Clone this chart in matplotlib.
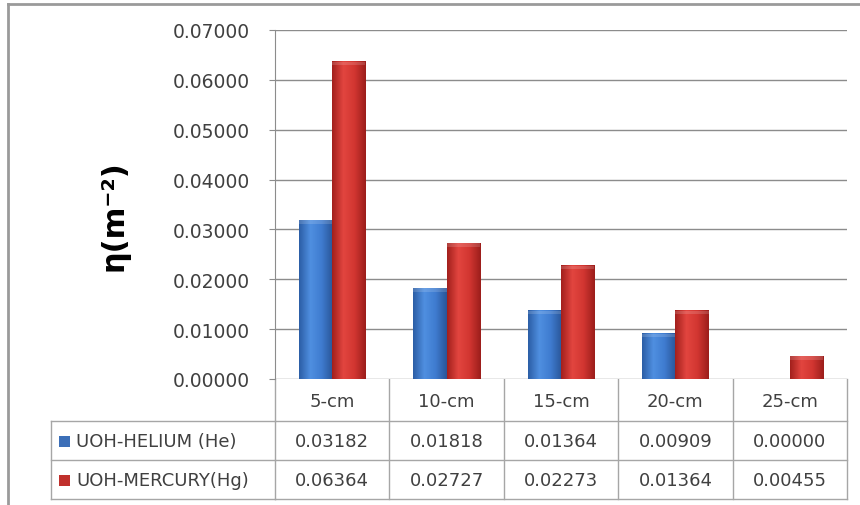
import numpy as np
import matplotlib
matplotlib.use("Agg")
from matplotlib import pyplot as plt
from matplotlib.colors import LinearSegmentedColormap
from matplotlib.transforms import blended_transform_factory
from matplotlib.patches import Rectangle

categories = ["5-cm", "10-cm", "15-cm", "20-cm", "25-cm"]
helium = [0.03182, 0.01818, 0.01364, 0.00909, 0.00000]
mercury = [0.06364, 0.02727, 0.02273, 0.01364, 0.00455]
series_names = ["UOH-HELIUM (He)", "UOH-MERCURY(Hg)"]
yticks = [0.0, 0.01, 0.02, 0.03, 0.04, 0.05, 0.06, 0.07]

W, H = 860, 506
fig = plt.figure(figsize=(W / 100, H / 100), dpi=100)
fig.patch.set_facecolor("white")

def fx(x):
    return x / W

def fy(y):
    return 1 - y / H

ax_left, ax_right, ax_top, ax_bot = 275, 847, 31, 380
ax = fig.add_axes([fx(ax_left), fy(ax_bot), fx(ax_right - ax_left), fy(ax_top) - fy(ax_bot)])

# overlay in pixel coordinates for the table and frame
ov = fig.add_axes([0, 0, 1, 1], zorder=-1)
ov.set_xlim(0, W)
ov.set_ylim(H, 0)
ov.axis("off")

txt = "#404040"
grid_c = "#8c8c8c"
line_c = "#a6a6a6"

blue_cmap = LinearSegmentedColormap.from_list("b", ["#2c5ea6", "#4f8fe0", "#3f7cd0", "#2a5699"])
red_cmap = LinearSegmentedColormap.from_list("r", ["#a3201d", "#e2453f", "#d23631", "#9c1e1b"])

x = np.arange(len(categories))
w = 0.29
b1 = ax.bar(x - w / 2, helium, w, color="#3c78c8", zorder=3, linewidth=0)
b2 = ax.bar(x + w / 2, mercury, w, color="#d0332f", zorder=3, linewidth=0)

grad = np.linspace(0, 1, 64).reshape(1, -1)
for bars, cm in ((b1, blue_cmap), (b2, red_cmap)):
    for r in bars:
        h = r.get_height()
        if h <= 0:
            continue
        ax.imshow(grad, extent=(r.get_x(), r.get_x() + r.get_width(), 0, h),
                  aspect="auto", cmap=cm, zorder=4, interpolation="bilinear")
        # soft bevel on top
        ax.add_patch(Rectangle((r.get_x(), h - 0.0007), r.get_width(), 0.0007,
                               facecolor="white", alpha=0.15, zorder=5, linewidth=0))

ax.set_xlim(-0.5, len(categories) - 0.5)
ax.set_ylim(0, 0.07)
ax.set_yticks(yticks)
ax.set_yticklabels([f"{v:.5f}" for v in yticks], fontsize=13.5, color=txt)
ax.set_xticks([])
ax.yaxis.grid(True, color=grid_c, linewidth=1.0)
ax.set_axisbelow(True)
ax.tick_params(axis="y", length=4, color=grid_c, pad=14)
for s in ("top", "right", "bottom"):
    ax.spines[s].set_visible(False)
ax.spines["left"].set_color(grid_c)

ax.set_ylabel("η(m⁻²)", fontsize=22, fontweight="bold", color="black")
ax.yaxis.set_label_coords(-(275 - 130) / (ax_right - ax_left), 0.47)

# data table under the plot
tr = blended_transform_factory(ax.transData, ov.transData)
row_y = [380, 422, 461, 500]
edges = np.arange(len(categories) + 1) - 0.5
for e in edges:
    ov.plot([e, e], [row_y[0], row_y[-1]], color=line_c, lw=1, transform=tr, clip_on=False)
for yy in row_y[1:]:
    ov.plot([edges[0], edges[-1]], [yy, yy], color=line_c, lw=1, transform=tr, clip_on=False)
# row header column
for yy in row_y[1:]:
    ov.plot([51, 275], [yy, yy], color=line_c, lw=1)
ov.plot([51, 51], [422, 500], color=line_c, lw=1)

for i, c in enumerate(categories):
    ov.text(i, (row_y[0] + row_y[1]) / 2 + 1, c, transform=tr, ha="center", va="center",
            fontsize=13, color=txt)
for j, vals in enumerate((helium, mercury)):
    yc = (row_y[j + 1] + row_y[j + 2]) / 2 + 1
    for i, v in enumerate(vals):
        ov.text(i, yc, f"{v:.5f}", transform=tr, ha="center", va="center",
                fontsize=13, color=txt)

key_colors = ["#3c6fb8", "#c0302c"]
for j, name in enumerate(series_names):
    yc = (row_y[j + 1] + row_y[j + 2]) / 2
    ov.add_patch(Rectangle((59, yc - 5), 11, 11, facecolor=key_colors[j], edgecolor="none"))
    ov.text(76, yc + 1, name, ha="left", va="center", fontsize=13, color=txt)

# chart frame (top and left edges)
ov.plot([8, W], [5, 5], color="#9a9a9a", lw=2)
ov.plot([8, 8], [5, H], color="#9a9a9a", lw=2)

fig.savefig("out.png", dpi=100)
